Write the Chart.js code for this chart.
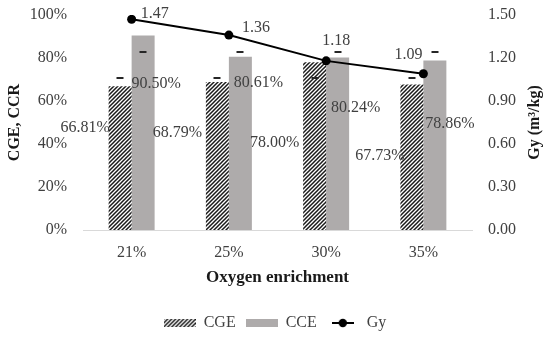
<!DOCTYPE html>
<html>
<head>
<meta charset="utf-8">
<title>Oxygen enrichment</title>
<script src="https://cdn.jsdelivr.net/npm/chart.js@4.4.0/dist/chart.umd.min.js"></script>
<style>
	html, body { margin: 0; padding: 0; background: #fff; }
</style>
</head>
<body>
<canvas id="grafico" width="550" height="341"></canvas>

<script>
	// datos
	var categorias = ['21%', '25%', '30%', '35%'];
	var cge = [66.81, 68.79, 78.00, 67.73];
	var cce = [90.50, 80.61, 80.24, 78.86];
	var gy = [1.47, 1.36, 1.18, 1.09];
	// las rayitas sueltas que aparecen sobre las barras
	var cgeMarca = [70.7, 70.7, 70.7, 70.7];
	var cceMarca = [82.8, 82.8, 82.8, 82.8];
	var ticksIzq = [0, 20, 40, 60, 80, 100];
	var ticksDer = [0, 0.3, 0.6, 0.9, 1.2, 1.5];

	// desplazamiento (px) de cada etiqueta respecto a su barra / punto
	var offCge = [[-35, 41], [-40, 51], [-40, 80], [-32, 71]];
	var offCce = [[13, 48], [18, 26], [18, 50], [15, 63]];
	var offGy = [[23, -6], [27, -7], [10, -20], [-15, -19]];

	var fuente = '"Liberation Serif", "Times New Roman", serif';
	var gris = '#AEABAB';
	var texto = '#404040';

	function mosaico() {
		var t = document.createElement('canvas');
		t.width = 4; t.height = 4;
		var x = t.getContext('2d');
		x.fillStyle = '#fff';
		x.fillRect(0, 0, 4, 4);
		x.strokeStyle = '#1a1a1a';
		x.lineWidth = 1.5;
		x.beginPath();
		x.moveTo(-1, 5); x.lineTo(5, -1);
		x.moveTo(-1, 1); x.lineTo(1, -1);
		x.moveTo(3, 5); x.lineTo(5, 3);
		x.stroke();
		return t;
	}

	var ctx = document.getElementById('grafico').getContext('2d');
	var rayado = ctx.createPattern(mosaico(), 'repeat');

	// muestras de la leyenda
	function muestra(w, h, dibujar) {
		var c = document.createElement('canvas');
		c.width = w; c.height = h;
		dibujar(c.getContext('2d'));
		return c;
	}
	var mCge = muestra(32, 8, function (x) {
		x.fillStyle = x.createPattern(mosaico(), 'repeat');
		x.fillRect(0, 0, 32, 8);
	});
	var mCce = muestra(32, 8, function (x) {
		x.fillStyle = gris;
		x.fillRect(0, 0, 32, 8);
	});
	var mGy = muestra(22, 10, function (x) {
		x.strokeStyle = '#000'; x.lineWidth = 2;
		x.beginPath(); x.moveTo(0, 5); x.lineTo(22, 5); x.stroke();
		x.fillStyle = '#000';
		x.beginPath(); x.arc(11, 5, 4.2, 0, Math.PI * 2); x.fill();
	});

	var etiquetas = {
		id: 'etiquetas',
		afterDatasetsDraw: function (chart) {
			var c = chart.ctx;
			var y = chart.scales.y;
			var y1 = chart.scales.y1;
			var m0 = chart.getDatasetMeta(0);
			var m1 = chart.getDatasetMeta(1);
			var m2 = chart.getDatasetMeta(2);
			c.save();
			c.fillStyle = '#262626';
			for (var i = 0; i < categorias.length; i++) {
				c.fillRect(Math.round(m0.data[i].x) - 3.5, Math.round(y.getPixelForValue(cgeMarca[i])) - 1, 7, 2);
				c.fillRect(Math.round(m1.data[i].x) - 3.5, Math.round(y.getPixelForValue(cceMarca[i])) - 1, 7, 2);
			}
			c.font = '16px ' + fuente;
			c.fillStyle = texto;
			c.textAlign = 'center';
			c.textBaseline = 'middle';
			for (var j = 0; j < categorias.length; j++) {
				c.fillText(cge[j].toFixed(2) + '%', m0.data[j].x + offCge[j][0], m0.data[j].y + offCge[j][1]);
				c.fillText(cce[j].toFixed(2) + '%', m1.data[j].x + offCce[j][0], m1.data[j].y + offCce[j][1]);
				c.fillText(gy[j].toFixed(2), m2.data[j].x + offGy[j][0], m2.data[j].y + offGy[j][1]);
			}
			// titulo del eje derecho, leido de abajo hacia arriba
			c.translate(y1.right - 15, (chart.chartArea.top + chart.chartArea.bottom) / 2);
			c.rotate(-Math.PI / 2);
			c.font = 'bold 16px ' + fuente;
			c.fillStyle = '#1a1a1a';
			c.fillText('Gy (m³/kg)', 0, 0);
			c.restore();
		}
	};

	function ajusteVertical(ancho) {
		return function (s) {
			s.width = ancho;
			s.paddingTop = 15;
			s.paddingBottom = 0;
		};
	}

	var grafico = new Chart(ctx, {
		type: 'bar',
		data: {
			labels: categorias,
			datasets: [
				{
					label: 'CGE',
					data: cge,
					backgroundColor: rayado,
					borderWidth: 0,
					yAxisID: 'y',
					order: 1
				},
				{
					label: 'CCE',
					data: cce,
					backgroundColor: gris,
					borderWidth: 0,
					yAxisID: 'y',
					order: 1
				},
				{
					type: 'line',
					label: 'Gy',
					data: gy,
					borderColor: '#000',
					backgroundColor: '#000',
					borderWidth: 2,
					pointRadius: 4.5,
					pointBackgroundColor: '#000',
					pointBorderWidth: 0,
					tension: 0,
					yAxisID: 'y1',
					order: 0
				}
			]
		},
		options: {
			responsive: false,
			animation: false,
			devicePixelRatio: 1,
			layout: { padding: 0 },
			datasets: {
				bar: { categoryPercentage: 0.473, barPercentage: 1 }
			},
			scales: {
				x: {
					grid: { display: false, drawTicks: false },
					border: { display: true, color: '#D9D9D9', width: 1 },
					ticks: { color: texto, font: { family: fuente, size: 16 }, padding: 13 },
					title: {
						display: true,
						text: 'Oxygen enrichment',
						color: '#1a1a1a',
						font: { family: fuente, size: 17, weight: 'bold' },
						padding: { top: 4, bottom: 17 }
					},
					afterFit: function (s) { s.height = 75; }
				},
				y: {
					position: 'left',
					min: 0,
					max: 100,
					grid: { display: false, drawTicks: false },
					border: { display: false },
					afterBuildTicks: function (s) {
						s.ticks = ticksIzq.map(function (v) { return { value: v }; });
					},
					ticks: {
						color: texto,
						font: { family: fuente, size: 16 },
						padding: 16,
						callback: function (v) { return v + '%'; }
					},
					title: {
						display: true,
						text: 'CGE, CCR',
						color: '#1a1a1a',
						font: { family: fuente, size: 16, weight: 'bold' },
						padding: { top: 5.4, bottom: 0 }
					},
					afterFit: ajusteVertical(83)
				},
				y1: {
					position: 'right',
					min: 0,
					max: 1.5,
					grid: { display: false, drawTicks: false },
					border: { display: false },
					afterBuildTicks: function (s) {
						s.ticks = ticksDer.map(function (v) { return { value: v }; });
					},
					ticks: {
						color: texto,
						font: { family: fuente, size: 16 },
						padding: 16,
						callback: function (v) { return v.toFixed(2); }
					},
					title: { display: false },
					afterFit: ajusteVertical(78)
				}
			},
			plugins: {
				tooltip: { enabled: false },
				legend: {
					position: 'bottom',
					labels: {
						usePointStyle: true,
						pointStyleWidth: 32,
						padding: 10,
						color: texto,
						font: { family: fuente, size: 16 },
						generateLabels: function (chart) {
							var estilos = [mCge, mCce, mGy];
							return chart.data.datasets.map(function (d, i) {
								return {
									text: d.label,
									pointStyle: estilos[i],
									fillStyle: '#000',
									strokeStyle: '#000',
									lineWidth: 0,
									hidden: false,
									datasetIndex: i,
									fontColor: texto
								};
							});
						}
					}
				}
			}
		},
		plugins: [etiquetas]
	});
</script>
</body>
</html>
